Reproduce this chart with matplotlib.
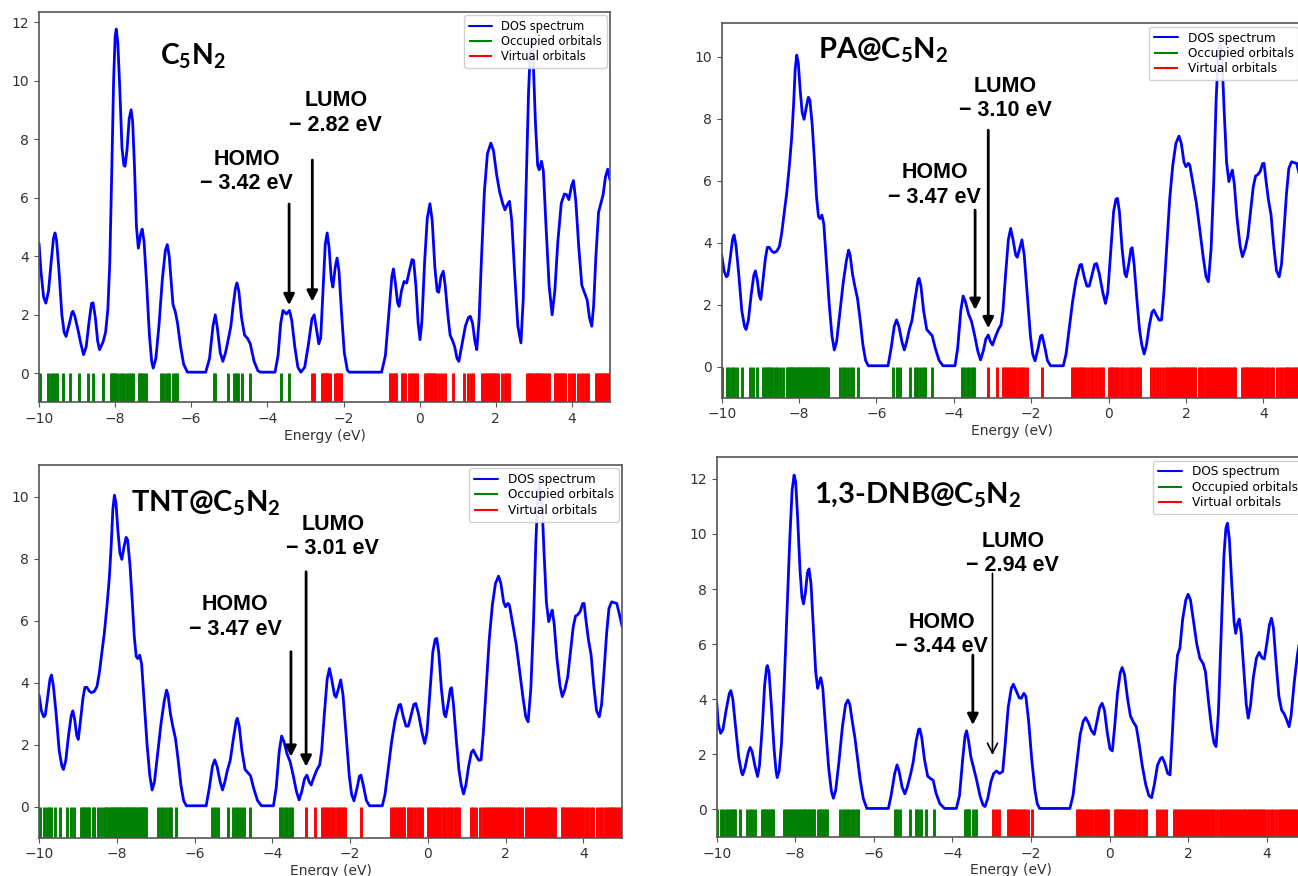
import matplotlib
matplotlib.use("Agg")
import matplotlib.pyplot as plt

plt.rcParams['mathtext.fontset'] = 'custom'
plt.rcParams['mathtext.bf'] = 'Lato:bold'
plt.rcParams['mathtext.rm'] = 'Lato:bold'
plt.rcParams['axes.edgecolor'] = '#555555'
plt.rcParams['xtick.color'] = '#555555'
plt.rcParams['ytick.color'] = '#555555'
plt.rcParams['xtick.labelcolor'] = '#333333'
plt.rcParams['ytick.labelcolor'] = '#333333'

# ---------------- data ----------------
xticks = [-10, -8, -6, -4, -2, 0, 2, 4]
legend_labels = ["DOS spectrum", "Occupied orbitals", "Virtual orbitals"]
titles = [r"C$_\mathbf{5}$N$_\mathbf{2}$", r"PA@C$_\mathbf{5}$N$_\mathbf{2}$",
          r"TNT@C$_\mathbf{5}$N$_\mathbf{2}$", r"1,3-DNB@C$_\mathbf{5}$N$_\mathbf{2}$"]
homo_values = [-3.42, -3.47, -3.47, -3.44]
lumo_values = [-2.82, -3.10, -3.01, -2.94]

# Panel 1: C5N2  (energy, DOS) pairs
c5n2_curve = [
    (-10.0, 4.44), (-9.95, 3.5), (-9.88, 2.6), (-9.82, 2.39), (-9.75, 2.8), (-9.68, 3.8),
    (-9.62, 4.6), (-9.58, 4.79), (-9.54, 4.55), (-9.48, 3.6), (-9.4, 2.0), (-9.34, 1.4),
    (-9.29, 1.25), (-9.2, 1.7), (-9.14, 2.05), (-9.11, 2.11), (-9.06, 1.95), (-8.98, 1.5),
    (-8.9, 1.0), (-8.83, 0.63), (-8.76, 0.9), (-8.68, 1.8), (-8.62, 2.38), (-8.58, 2.4),
    (-8.52, 1.9), (-8.46, 1.1), (-8.41, 0.8), (-8.32, 1.05), (-8.25, 1.4), (-8.19, 2.2),
    (-8.14, 3.8), (-8.09, 6.8), (-8.04, 10.0), (-8.0, 11.5), (-7.97, 11.76), (-7.93, 11.3),
    (-7.88, 9.8), (-7.82, 7.7), (-7.77, 7.1), (-7.74, 7.07), (-7.69, 7.6), (-7.63, 8.7),
    (-7.58, 9.0), (-7.54, 8.6), (-7.49, 7.0), (-7.44, 5.0), (-7.39, 4.27), (-7.33, 4.75),
    (-7.29, 4.92), (-7.24, 4.5), (-7.17, 3.0), (-7.1, 1.3), (-7.04, 0.4), (-7.0, 0.17),
    (-6.93, 0.5), (-6.85, 1.6), (-6.76, 3.2), (-6.68, 4.2), (-6.63, 4.39), (-6.58, 4.0),
    (-6.52, 3.0), (-6.48, 2.34), (-6.42, 2.1), (-6.36, 1.7), (-6.28, 0.9), (-6.2, 0.3),
    (-6.1, 0.03), (-5.62, 0.03), (-5.52, 0.5), (-5.43, 1.6), (-5.37, 1.99), (-5.32, 1.6),
    (-5.24, 0.7), (-5.17, 0.4), (-5.1, 0.7), (-5.02, 1.2), (-4.96, 1.6), (-4.9, 2.3),
    (-4.84, 2.9), (-4.8, 3.08), (-4.75, 2.8), (-4.68, 1.9), (-4.6, 1.3), (-4.52, 1.18),
    (-4.45, 1.0), (-4.35, 0.4), (-4.25, 0.08), (-4.18, 0.03), (-3.8, 0.03), (-3.72, 0.6),
    (-3.65, 1.7), (-3.59, 2.14), (-3.5, 2.02), (-3.42, 2.14), (-3.36, 1.8), (-3.28, 0.9),
    (-3.2, 0.2), (-3.12, 0.03), (-3.02, 0.2), (-2.92, 1.0), (-2.83, 1.85), (-2.77, 1.99),
    (-2.71, 1.5), (-2.65, 1.0), (-2.6, 1.2), (-2.54, 2.8), (-2.48, 4.4), (-2.43, 4.79),
    (-2.38, 4.3), (-2.32, 3.2), (-2.28, 2.94), (-2.22, 3.6), (-2.17, 3.93), (-2.12, 3.5),
    (-2.05, 2.0), (-1.98, 0.7), (-1.9, 0.1), (-1.85, 0.03), (-1.0, 0.03), (-0.9, 0.6),
    (-0.8, 2.2), (-0.73, 3.3), (-0.69, 3.56), (-0.64, 3.1), (-0.58, 2.4), (-0.54, 2.28),
    (-0.48, 2.8), (-0.41, 3.13), (-0.34, 3.08), (-0.27, 3.5), (-0.2, 3.88), (-0.16, 3.85),
    (-0.1, 3.0), (-0.04, 1.7), (0.01, 1.14), (0.06, 1.8), (0.13, 3.8), (0.2, 5.3),
    (0.27, 5.79), (0.33, 5.2), (0.4, 3.6), (0.46, 2.8), (0.5, 2.76), (0.56, 3.3),
    (0.62, 3.48), (0.67, 3.0), (0.74, 2.0), (0.8, 1.3), (0.86, 1.12), (0.92, 0.9),
    (0.98, 0.5), (1.03, 0.4), (1.1, 0.9), (1.2, 1.6), (1.28, 1.9), (1.33, 1.94),
    (1.39, 1.7), (1.45, 1.1), (1.5, 0.8), (1.56, 1.8), (1.62, 3.8), (1.7, 6.2),
    (1.78, 7.5), (1.87, 7.86), (1.94, 7.6), (2.02, 6.8), (2.1, 6.2), (2.18, 5.8),
    (2.24, 5.58), (2.3, 5.75), (2.36, 5.87), (2.42, 5.2), (2.5, 3.3), (2.58, 1.6),
    (2.66, 1.03), (2.72, 2.5), (2.79, 6.0), (2.86, 9.6), (2.91, 11.1), (2.94, 11.4),
    (2.98, 10.8), (3.04, 8.6), (3.1, 7.1), (3.14, 6.95), (3.2, 7.24), (3.25, 6.9),
    (3.32, 5.0), (3.4, 3.0), (3.48, 1.99), (3.55, 2.8), (3.63, 4.5), (3.72, 5.8),
    (3.8, 6.12), (3.86, 6.1), (3.92, 5.93), (3.99, 6.4), (4.04, 6.58), (4.1, 5.9),
    (4.18, 4.3), (4.26, 3.0), (4.32, 2.79), (4.4, 2.5), (4.46, 1.9), (4.52, 1.6),
    (4.57, 2.3), (4.63, 4.0), (4.7, 5.5), (4.76, 5.8), (4.82, 6.1), (4.88, 6.7),
    (4.94, 6.97), (5.0, 6.6)]
c5n2_occupied = [-9.97, -9.77, -9.69, -9.62, -9.58, -9.54, -9.36, -9.19, -8.95, -8.70, -8.59,
                 -8.31, -8.11, -8.07, -8.04, -8.00, -7.96, -7.87, -7.81, -7.76, -7.70, -7.64,
                 -7.58, -7.54, -7.38, -7.34, -7.29, -7.23, -7.20, -6.80, -6.73, -6.67, -6.62,
                 -6.58, -6.47, -6.42, -6.37, -5.39, -5.37, -5.03, -4.87, -4.82, -4.78, -4.66,
                 -4.47, -3.64, -3.42]
c5n2_virtual = [-2.82, -2.78, -2.57, -2.54, -2.50, -2.47, -2.43, -2.40, -2.36, -2.22, -2.18,
                -2.14, -2.10, -2.07, -0.78, -0.74, -0.70, -0.66, -0.62, -0.47, -0.43, -0.39,
                -0.27, -0.22, -0.17, -0.12, -0.07, 0.14, 0.18, 0.22, 0.26, 0.30, 0.34, 0.38,
                0.42, 0.52, 0.58, 0.66, 0.88, 1.16, 1.28, 1.34, 1.41, 1.65, 1.69, 1.73, 1.77,
                1.81, 1.85, 1.89, 1.93, 1.97, 2.01, 2.07, 2.15, 2.24, 2.29, 2.35, 2.83, 2.87,
                2.91, 2.95, 2.99, 3.03, 3.07, 3.11, 3.15, 3.19, 3.23, 3.29, 3.35, 3.40, 3.55,
                3.59, 3.63, 3.67, 3.71, 3.75, 3.79, 3.83, 3.93, 3.99, 4.05, 4.17, 4.23, 4.30,
                4.37, 4.43, 4.62, 4.66, 4.70, 4.74, 4.78, 4.82, 4.86, 4.90, 4.94, 4.98]

# Panel 2: PA@C5N2
pa_curve = [
    (-10.0, 3.6), (-9.94, 3.1), (-9.88, 2.9), (-9.84, 2.95), (-9.78, 3.5), (-9.72, 4.1),
    (-9.68, 4.25), (-9.63, 3.9), (-9.56, 3.0), (-9.48, 1.8), (-9.41, 1.3), (-9.37, 1.2),
    (-9.31, 1.5), (-9.24, 2.3), (-9.17, 2.95), (-9.13, 3.09), (-9.08, 2.8), (-9.03, 2.3),
    (-8.99, 2.17), (-8.94, 2.7), (-8.87, 3.5), (-8.82, 3.85), (-8.77, 3.85), (-8.7, 3.72),
    (-8.65, 3.68), (-8.58, 3.72), (-8.51, 3.87), (-8.45, 4.3), (-8.38, 5.0), (-8.32, 5.6),
    (-8.25, 6.5), (-8.19, 7.4), (-8.14, 8.5), (-8.1, 9.6), (-8.06, 10.05), (-8.02, 9.8),
    (-7.97, 8.9), (-7.92, 8.2), (-7.87, 7.98), (-7.81, 8.4), (-7.76, 8.69), (-7.72, 8.6),
    (-7.66, 7.8), (-7.6, 6.6), (-7.55, 5.5), (-7.5, 4.85), (-7.46, 4.78), (-7.41, 4.89),
    (-7.36, 4.6), (-7.3, 3.5), (-7.22, 2.0), (-7.15, 1.0), (-7.09, 0.54), (-7.03, 0.8),
    (-6.95, 1.7), (-6.86, 2.7), (-6.78, 3.4), (-6.72, 3.76), (-6.68, 3.6), (-6.62, 3.0),
    (-6.56, 2.6), (-6.49, 2.2), (-6.42, 1.5), (-6.35, 0.7), (-6.28, 0.2), (-6.21, 0.03),
    (-5.7, 0.03), (-5.62, 0.6), (-5.54, 1.3), (-5.48, 1.51), (-5.42, 1.3), (-5.34, 0.8),
    (-5.28, 0.54), (-5.22, 0.8), (-5.15, 1.2), (-5.08, 1.5), (-5.0, 2.2), (-4.93, 2.75),
    (-4.9, 2.85), (-4.85, 2.6), (-4.78, 1.8), (-4.7, 1.2), (-4.63, 1.1), (-4.56, 1.0),
    (-4.48, 0.6), (-4.38, 0.2), (-4.28, 0.03), (-3.97, 0.03), (-3.9, 0.6), (-3.82, 1.8),
    (-3.76, 2.28), (-3.7, 2.1), (-3.62, 1.7), (-3.54, 1.45), (-3.46, 1.0), (-3.38, 0.5),
    (-3.31, 0.22), (-3.24, 0.5), (-3.17, 0.9), (-3.11, 1.02), (-3.05, 0.8), (-3.0, 0.7),
    (-2.93, 0.95), (-2.85, 1.2), (-2.78, 1.35), (-2.73, 1.8), (-2.66, 3.0), (-2.59, 4.1),
    (-2.53, 4.46), (-2.47, 4.1), (-2.4, 3.6), (-2.36, 3.53), (-2.3, 3.8), (-2.24, 4.09),
    (-2.18, 3.6), (-2.1, 2.3), (-2.02, 1.0), (-1.96, 0.4), (-1.9, 0.19), (-1.82, 0.6),
    (-1.76, 0.98), (-1.72, 1.02), (-1.66, 0.7), (-1.58, 0.2), (-1.5, 0.03), (-1.17, 0.03),
    (-1.1, 0.4), (-1.02, 1.2), (-0.93, 2.1), (-0.84, 2.8), (-0.74, 3.28), (-0.7, 3.3),
    (-0.63, 2.9), (-0.56, 2.6), (-0.5, 2.6), (-0.42, 3.0), (-0.36, 3.3), (-0.31, 3.33),
    (-0.24, 3.0), (-0.15, 2.4), (-0.08, 2.04), (-0.02, 2.4), (0.05, 3.6), (0.13, 5.0),
    (0.19, 5.4), (0.23, 5.43), (0.28, 5.0), (0.35, 3.8), (0.42, 3.0), (0.46, 2.9),
    (0.52, 3.3), (0.58, 3.8), (0.61, 3.84), (0.66, 3.3), (0.73, 2.2), (0.8, 1.2),
    (0.86, 0.7), (0.92, 0.41), (0.98, 0.7), (1.05, 1.3), (1.12, 1.75), (1.17, 1.83),
    (1.24, 1.65), (1.31, 1.5), (1.37, 1.51), (1.43, 2.4), (1.5, 3.8), (1.58, 5.4),
    (1.66, 6.5), (1.74, 7.2), (1.82, 7.44), (1.88, 7.2), (1.95, 6.6), (2.0, 6.45),
    (2.06, 6.56), (2.1, 6.5), (2.17, 6.0), (2.27, 5.27), (2.36, 4.4), (2.45, 3.5),
    (2.52, 2.9), (2.58, 2.74), (2.65, 3.8), (2.72, 6.0), (2.78, 8.6), (2.84, 10.2),
    (2.88, 10.5), (2.93, 10.0), (2.99, 8.2), (3.05, 6.6), (3.11, 5.97), (3.16, 6.2),
    (3.2, 6.34), (3.25, 5.9), (3.32, 4.8), (3.4, 3.9), (3.46, 3.55), (3.53, 3.8),
    (3.6, 4.2), (3.67, 5.0), (3.74, 5.8), (3.8, 6.15), (3.86, 6.2), (3.92, 6.3),
    (3.98, 6.55), (4.02, 6.56), (4.07, 6.0), (4.13, 5.4), (4.2, 4.9), (4.27, 3.9),
    (4.34, 3.1), (4.41, 2.9), (4.47, 3.3), (4.54, 4.5), (4.6, 5.6), (4.66, 6.4),
    (4.73, 6.61), (4.8, 6.58), (4.86, 6.56), (4.93, 6.2), (5.0, 5.8)]
pa_occupied = [-9.98, -9.87, -9.80, -9.74, -9.68, -9.60, -9.47, -9.27, -9.18, -9.10, -8.92,
               -8.88, -8.84, -8.80, -8.75, -8.71, -8.62, -8.58, -8.49, -8.41, -8.32, -8.28,
               -8.24, -8.20, -8.16, -8.12, -8.08, -8.04, -8.00, -7.96, -7.92, -7.88, -7.84,
               -7.80, -7.76, -7.72, -7.68, -7.64, -7.60, -7.56, -7.52, -7.48, -7.44, -7.40,
               -7.36, -7.32, -7.28, -7.24, -6.94, -6.86, -6.80, -6.73, -6.66, -6.60, -6.47,
               -5.56, -5.48, -5.39, -5.13, -5.00, -4.94, -4.87, -4.80, -4.74, -4.57, -3.80,
               -3.74, -3.67, -3.61, -3.54, -3.48]
pa_virtual = [-3.12, -2.89, -2.72, -2.67, -2.62, -2.57, -2.52, -2.47, -2.42, -2.33, -2.28,
              -2.23, -2.18, -2.12, -1.73, -0.95, -0.90, -0.85, -0.80, -0.75, -0.70, -0.65,
              -0.60, -0.52, -0.45, -0.40, -0.32, -0.25, -0.20, -0.14, 0.00, 0.05, 0.10,
              0.15, 0.20, 0.25, 0.32, 0.38, 0.45, 0.52, 0.58, 0.63, 0.70, 0.75, 0.81, 1.10,
              1.17, 1.24, 1.33, 1.41, 1.48, 1.53, 1.58, 1.63, 1.68, 1.73, 1.78, 1.83, 1.88,
              1.93, 1.98, 2.03, 2.08, 2.13, 2.18, 2.23, 2.33, 2.38, 2.43, 2.53, 2.58, 2.63,
              2.68, 2.73, 2.78, 2.83, 2.88, 2.93, 2.98, 3.03, 3.08, 3.13, 3.18, 3.23, 3.28,
              3.44, 3.49, 3.54, 3.59, 3.64, 3.69, 3.74, 3.79, 3.84, 3.89, 3.94, 4.00, 4.06,
              4.12, 4.19, 4.26, 4.36, 4.42, 4.48, 4.55, 4.60, 4.65, 4.70, 4.75, 4.80, 4.85,
              4.90, 4.95, 5.00]

# Panel 3: TNT@C5N2 (spectrum and orbital levels read identical to PA@C5N2)
tnt_curve = pa_curve
tnt_occupied = pa_occupied
tnt_virtual = pa_virtual

# Panel 4: 1,3-DNB@C5N2
dnb_curve = [
    (-10.0, 3.91), (-9.96, 3.1), (-9.9, 2.76), (-9.84, 2.9), (-9.76, 3.6), (-9.68, 4.2),
    (-9.64, 4.31), (-9.59, 4.0), (-9.52, 3.0), (-9.44, 1.9), (-9.37, 1.35), (-9.34, 1.25),
    (-9.28, 1.5), (-9.2, 2.05), (-9.15, 2.25), (-9.1, 2.1), (-9.03, 1.6), (-8.96, 1.19),
    (-8.91, 1.6), (-8.84, 3.0), (-8.78, 4.5), (-8.73, 5.15), (-8.71, 5.22), (-8.67, 5.0),
    (-8.61, 3.8), (-8.54, 2.2), (-8.49, 1.4), (-8.46, 1.15), (-8.41, 1.4), (-8.35, 2.4),
    (-8.28, 4.6), (-8.21, 7.2), (-8.14, 9.8), (-8.08, 11.6), (-8.03, 12.14), (-7.99, 11.9),
    (-7.94, 10.6), (-7.88, 8.7), (-7.83, 7.7), (-7.79, 7.46), (-7.74, 7.9), (-7.69, 8.6),
    (-7.65, 8.73), (-7.6, 8.2), (-7.54, 6.6), (-7.48, 5.0), (-7.43, 4.39), (-7.39, 4.6),
    (-7.35, 4.78), (-7.3, 4.4), (-7.23, 3.0), (-7.15, 1.5), (-7.08, 0.65), (-7.03, 0.4),
    (-6.97, 0.7), (-6.89, 1.7), (-6.8, 3.0), (-6.72, 3.8), (-6.66, 3.97), (-6.61, 3.8),
    (-6.55, 3.2), (-6.48, 2.58), (-6.42, 1.9), (-6.35, 1.1), (-6.27, 0.4), (-6.18, 0.03),
    (-5.63, 0.03), (-5.56, 0.5), (-5.47, 1.3), (-5.41, 1.61), (-5.36, 1.4), (-5.28, 0.8),
    (-5.21, 0.56), (-5.15, 0.8), (-5.06, 1.3), (-5.0, 1.7), (-4.92, 2.5), (-4.86, 2.9),
    (-4.83, 2.92), (-4.78, 2.6), (-4.71, 1.8), (-4.63, 1.2), (-4.56, 1.12), (-4.49, 1.05),
    (-4.42, 0.6), (-4.32, 0.2), (-4.2, 0.03), (-3.9, 0.03), (-3.82, 0.5), (-3.74, 1.8),
    (-3.68, 2.65), (-3.64, 2.85), (-3.59, 2.5), (-3.53, 1.9), (-3.46, 1.5), (-3.39, 1.1),
    (-3.3, 0.5), (-3.22, 0.15), (-3.17, 0.1), (-3.1, 0.4), (-3.02, 1.0), (-2.95, 1.3),
    (-2.88, 1.39), (-2.8, 1.3), (-2.72, 1.37), (-2.66, 2.3), (-2.58, 3.7), (-2.5, 4.4),
    (-2.45, 4.54), (-2.39, 4.35), (-2.3, 4.05), (-2.25, 4.03), (-2.18, 4.21), (-2.13, 4.1),
    (-2.06, 3.2), (-1.98, 1.8), (-1.9, 0.7), (-1.84, 0.2), (-1.78, 0.03), (-1.01, 0.03),
    (-0.93, 0.5), (-0.84, 1.6), (-0.75, 2.7), (-0.67, 3.2), (-0.61, 3.33), (-0.54, 3.15),
    (-0.46, 2.85), (-0.39, 2.72), (-0.32, 3.2), (-0.25, 3.7), (-0.19, 3.85), (-0.13, 3.6),
    (-0.06, 2.8), (0.01, 2.2), (0.07, 2.12), (0.13, 3.0), (0.2, 4.2), (0.27, 4.95),
    (0.32, 5.15), (0.38, 4.9), (0.46, 4.0), (0.53, 3.4), (0.6, 3.18), (0.68, 3.0),
    (0.75, 2.4), (0.83, 1.6), (0.92, 0.9), (1.0, 0.5), (1.07, 0.42), (1.14, 0.9),
    (1.22, 1.6), (1.3, 1.85), (1.34, 1.89), (1.4, 1.7), (1.48, 1.3), (1.54, 1.25),
    (1.6, 2.8), (1.66, 4.5), (1.73, 5.6), (1.79, 5.85), (1.86, 6.9), (1.94, 7.6),
    (2.0, 7.81), (2.06, 7.6), (2.14, 6.8), (2.22, 6.0), (2.3, 5.48), (2.38, 5.3),
    (2.44, 5.0), (2.52, 3.9), (2.6, 2.9), (2.66, 2.4), (2.71, 2.28), (2.77, 3.5),
    (2.84, 6.3), (2.91, 9.2), (2.96, 10.2), (3.0, 10.39), (3.05, 9.8), (3.11, 8.2),
    (3.17, 6.8), (3.21, 6.39), (3.26, 6.75), (3.3, 6.91), (3.35, 6.4), (3.42, 5.0),
    (3.48, 3.8), (3.53, 3.31), (3.59, 3.8), (3.66, 4.8), (3.74, 5.5), (3.81, 5.7),
    (3.88, 5.5), (3.94, 5.46), (4.0, 6.0), (4.07, 6.7), (4.12, 6.94), (4.17, 6.6),
    (4.24, 5.3), (4.31, 4.1), (4.38, 3.6), (4.45, 3.45), (4.52, 3.2), (4.57, 3.0),
    (4.62, 3.4), (4.7, 4.6), (4.78, 5.6), (4.86, 6.3), (4.93, 6.6), (5.0, 6.6)]
dnb_occupied = [-9.98, -9.90, -9.83, -9.76, -9.71, -9.66, -9.61, -9.56, -9.53, -9.41, -9.22,
                -9.15, -9.09, -9.02, -8.85, -8.80, -8.75, -8.70, -8.65, -8.60, -8.56, -8.28,
                -8.23, -8.18, -8.13, -8.08, -8.03, -7.98, -7.93, -7.88, -7.84, -7.79, -7.75,
                -7.70, -7.65, -7.60, -7.56, -7.52, -7.41, -7.36, -7.31, -7.27, -7.22, -7.18,
                -6.86, -6.79, -6.73, -6.68, -6.62, -6.56, -6.51, -6.44, -6.40, -5.46, -5.40,
                -5.34, -5.08, -4.93, -4.87, -4.81, -4.66, -4.47, -3.68, -3.64, -3.60, -3.57,
                -3.47, -3.40]
dnb_virtual = [-2.96, -2.88, -2.81, -2.58, -2.54, -2.50, -2.46, -2.42, -2.38, -2.33, -2.28,
               -2.24, -2.19, -2.14, -2.08, -1.98, -0.82, -0.78, -0.74, -0.70, -0.65, -0.60,
               -0.55, -0.50, -0.44, -0.38, -0.32, -0.27, -0.22, -0.17, -0.12, -0.08, -0.03,
               0.14, 0.18, 0.22, 0.26, 0.30, 0.35, 0.40, 0.45, 0.50, 0.55, 0.60, 0.66, 0.72,
               0.78, 0.84, 0.90, 0.94, 1.20, 1.28, 1.35, 1.43, 1.65, 1.70, 1.75, 1.80, 1.85,
               1.90, 1.95, 2.00, 2.05, 2.10, 2.15, 2.20, 2.25, 2.30, 2.35, 2.40, 2.45, 2.50,
               2.55, 2.60, 2.66, 2.73, 2.81, 2.86, 2.91, 2.96, 3.01, 3.06, 3.11, 3.16, 3.21,
               3.26, 3.31, 3.36, 3.41, 3.46, 3.51, 3.56, 3.61, 3.66, 3.71, 3.76, 3.81, 3.86,
               3.91, 3.96, 4.03, 4.10, 4.17, 4.24, 4.31, 4.36, 4.41, 4.46, 4.51, 4.56, 4.61,
               4.66, 4.71, 4.76, 4.81, 4.86, 4.91, 4.96]

panels = [
    (c5n2_curve, c5n2_occupied, c5n2_virtual),
    (pa_curve, pa_occupied, pa_virtual),
    (tnt_curve, tnt_occupied, tnt_virtual),
    (dnb_curve, dnb_occupied, dnb_virtual),
]

# ---------------- layout (pixel boxes from the reference) ----------------
W, H = 1298, 876
# (left, top, right, bottom) in pixels
boxes = [(39, 11.8, 610, 402.3), (721.7, 23.2, 1302, 397.7),
         (39, 464.5, 622.2, 837.7), (716.7, 456.9, 1306, 836.8)]
ytops = [12.35, 11.08, 11.04, 12.8]
title_size = [20.3, 21, 21, 21]
legend_size = [8.3, 8.7, 8.7, 8.7]
title_pos = [(-5.97, 10.85), (-5.82, 10.2), (-5.71, 9.8), (-4.89, 11.4)]
homo_text = [(-4.54, 6.89), (-4.49, 5.86), (-4.96, 6.12), (-4.27, 6.36)]
homo_arrow = [(5.78, 2.32), (5.05, 1.83), (5.0, 1.61), (5.6, 3.06)]
homo_x = [-3.43, -3.45, -3.52, -3.48]
lumo_text = [(-2.2, 8.89), (-2.67, 8.64), (-2.44, 8.73), (-2.46, 9.29)]
lumo_arrow = [(7.28, 2.44), (7.63, 1.24), (7.58, 1.29), (8.57, 1.97)]
lumo_x = [-2.82, -3.11, -3.13, -2.98]

fig = plt.figure(figsize=(W / 100, H / 100), dpi=100)

for i, (curve, occ, virt) in enumerate(panels):
    l, t, r, b = boxes[i]
    ax = fig.add_axes([l / W, 1 - b / H, (r - l) / W, (b - t) / H])
    e = [p[0] for p in curve]
    dos = [p[1] for p in curve]
    ax.plot(e, dos, color='blue', lw=2.0, label=legend_labels[0],
            solid_joinstyle='round', solid_capstyle='round')
    ax.vlines(occ, -1, 0, color='green', lw=2.1, label=legend_labels[1])
    ax.vlines(virt, -1, 0, color='red', lw=2.1, label=legend_labels[2])
    ax.set_xlim(-10, 5)
    ax.set_ylim(-1, ytops[i])
    ax.set_xticks(xticks)
    ax.tick_params(labelsize=10, length=3.5, width=0.8)
    for s in ax.spines.values():
        s.set_linewidth(1.2)
    ax.set_xlabel("Energy (eV)", fontsize=10, color='#333333', labelpad=2)
    leg = ax.legend(loc='upper right', fontsize=legend_size[i], labelspacing=0.2,
                    borderpad=0.4, borderaxespad=0.3, handlelength=2.0,
                    framealpha=0.9, edgecolor='#cccccc')
    for h in leg.legend_handles:
        h.set_linewidth(1.5)

    ax.text(title_pos[i][0], title_pos[i][1], titles[i], fontsize=title_size[i],
            fontweight='bold', family='Lato', ha='center', va='center')

    hx, hy = homo_text[i]
    ax.text(hx, hy, "HOMO\n\u2212 %.2f eV" % abs(homo_values[i]), fontsize=15.5,
            fontweight='bold', family='Liberation Sans', ha='center', va='center',
            multialignment='center', linespacing=1.2)
    ax.annotate('', xy=(homo_x[i], homo_arrow[i][1]), xytext=(homo_x[i], homo_arrow[i][0]),
                arrowprops=dict(arrowstyle='-|>', color='black', lw=2.0, mutation_scale=16,
                                shrinkA=0, shrinkB=0))
    lx, ly = lumo_text[i]
    ax.text(lx, ly, "LUMO\n\u2212 %.2f eV" % abs(lumo_values[i]), fontsize=15.5,
            fontweight='bold', family='Liberation Sans', ha='center', va='center',
            multialignment='center', linespacing=1.2)
    if i == 3:
        ap = dict(arrowstyle='->', color='black', lw=1.2, mutation_scale=18, shrinkA=0, shrinkB=0)
    else:
        ap = dict(arrowstyle='-|>', color='black', lw=2.0, mutation_scale=16, shrinkA=0, shrinkB=0)
    ax.annotate('', xy=(lumo_x[i], lumo_arrow[i][1]), xytext=(lumo_x[i], lumo_arrow[i][0]),
                arrowprops=ap)

fig.savefig("out.png", dpi=100)
